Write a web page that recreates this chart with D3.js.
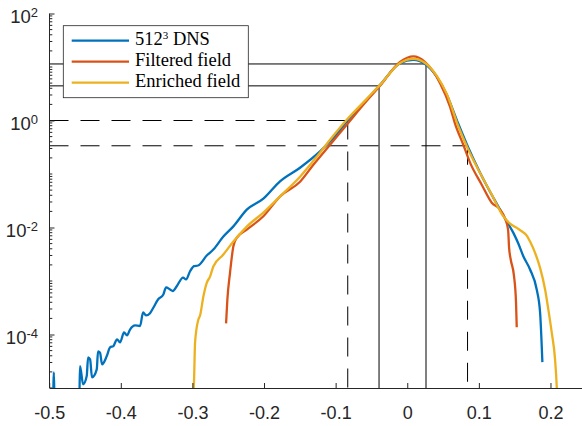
<!DOCTYPE html>
<html>
<head>
<meta charset="utf-8">
<script src="https://cdn.jsdelivr.net/npm/d3@7/dist/d3.min.js"></script>
<style>
body { margin: 0; background: #fff; }
</style>
</head>
<body>
<div id="app"></div>
<script>
// PDF curves (x value, pdf value)
const dnsX = [-0.4945, -0.4935, -0.4925, -0.4579, -0.4569, -0.4527, -0.4476, -0.4457, -0.4429, -0.4402, -0.4336, -0.4318, -0.4290, -0.4262, -0.4196, -0.4150, -0.4104, -0.4052, -0.4011, -0.3955, -0.3913, -0.3871, -0.3801, -0.3731, -0.3689, -0.3648, -0.3592, -0.3546, -0.3480, -0.3406, -0.3368, -0.3312, -0.3274, -0.3219, -0.3131, -0.3089, -0.3033, -0.2977, -0.2921, -0.2800, -0.2708, -0.2568, -0.2428, -0.2241, -0.2009, -0.1777, -0.1497, -0.1218, -0.1032, -0.0845, -0.0566, -0.0380, -0.0101, 0.0085, 0.0249, 0.0412, 0.0552, 0.0691, 0.0853, 0.1017, 0.1202, 0.1366, 0.1482, 0.1551, 0.1621, 0.1715, 0.1808, 0.1855, 0.1887];
const dnsY = [5e-6, 1.96e-5, 5e-6, 7.6e-6, 2.57e-5, 1.17e-5, 1.67e-5, 3.74e-5, 3.43e-5, 1.58e-5, 2.23e-5, 4.84e-5, 4.57e-5, 2.77e-5, 3.95e-5, 5.74e-5, 6.08e-5, 8.11e-5, 7.13e-5, 1.09e-4, 9.6e-5, 1.24e-4, 1.48e-4, 1.44e-4, 2.6e-4, 2.27e-4, 2.5e-4, 3.16e-4, 4.52e-4, 5.60e-4, 7.6e-4, 6.93e-4, 6.5e-4, 8.00e-4, 1.16e-3, 1.07e-3, 1.52e-3, 1.9e-3, 1.95e-3, 2.99e-3, 3.87e-3, 6.76e-3, 1.05e-2, 2.16e-2, 3.46e-2, 7.28e-2, 0.131, 0.264, 0.470, 0.958, 2.43, 4.63, 11.7, 13.6, 11.4, 6.62, 3.02, 1.03, 0.310, 0.106, 0.0361, 0.0147, 7.93e-3, 5.01e-3, 2.90e-3, 1.64e-3, 6.93e-4, 2.58e-4, 3.05e-5];

const filteredX = [-0.2530, -0.2512, -0.2475, -0.2428, -0.2381, -0.2241, -0.2009, -0.1776, -0.1497, -0.1311, -0.1078, -0.0845, -0.0566, -0.0380, -0.0101, 0.0085, 0.0249, 0.0458, 0.0598, 0.0668, 0.0783, 0.0877, 0.1040, 0.1180, 0.1296, 0.1366, 0.1408, 0.1422, 0.1445, 0.1491, 0.1519, 0.1529];
const filteredY = [1.61e-4, 4.52e-4, 1.42e-3, 4.46e-3, 6.40e-3, 9.14e-3, 1.62e-2, 3.82e-2, 7.18e-2, 0.149, 0.352, 0.832, 2.33, 4.44, 12.4, 15.8, 12.4, 4.99, 1.80, 0.868, 0.352, 0.163, 0.0631, 0.0291, 0.0216, 0.0147, 9.14e-3, 4.22e-3, 2.52e-3, 1.23e-3, 3.97e-4, 1.37e-4];

const enrichedX = [-0.2987, -0.2977, -0.2963, -0.2917, -0.2893, -0.2847, -0.2800, -0.2754, -0.2708, -0.2568, -0.2428, -0.2241, -0.2009, -0.1776, -0.1497, -0.1264, -0.1078, -0.0845, -0.0566, -0.0380, -0.0101, 0.0085, 0.0249, 0.0412, 0.0552, 0.0714, 0.0853, 0.1017, 0.1180, 0.1342, 0.1436, 0.1529, 0.1599, 0.1669, 0.1715, 0.1785, 0.1855, 0.1925, 0.1970, 0.2018, 0.2064, 0.2088, 0.2092];
const enrichedY = [7.6e-6, 1.45e-5, 7.13e-5, 1.91e-4, 2.27e-4, 5.14e-4, 9.25e-4, 1.21e-3, 1.87e-3, 3.12e-3, 5.46e-3, 1.04e-2, 1.90e-2, 3.82e-2, 8.91e-2, 0.210, 0.436, 1.03, 2.54, 4.63, 11.9, 14.2, 11.9, 6.82, 3.15, 0.773, 0.284, 0.104, 0.0411, 0.0162, 0.0118, 9.83e-3, 8.50e-3, 7.06e-3, 5.46e-3, 3.36e-3, 1.76e-3, 6.93e-4, 2.94e-4, 1.08e-4, 3.43e-5, 1.03e-5, 7.6e-6];

const seriesNames = ['512', 'Filtered field', 'Enriched field'];
const seriesColors = ['#0072BD', '#D95319', '#EDB120'];

// guide lines: solid at peak levels, dashed at lower levels
const solidLevels = [11.4, 4.44];
const solidX = [0.0262, -0.0394];
const dashedLevels = [1.0, 0.337];
const dashedX = [-0.0831, 0.0842];

const xTicks = [-0.5, -0.4, -0.3, -0.2, -0.1, 0, 0.1, 0.2];
const xTickLabels = ['-0.5', '-0.4', '-0.3', '-0.2', '-0.1', '0', '0.1', '0.2'];
const yLabelExps = [2, 0, -2, -4];

const width = 582;
const height = 426;
const plotLeft = 49.5, plotTop = 13.5, plotBottom = 388;

const x = d3.scaleLinear().domain([-0.5, 0.25]).range([49.2, 49.2 + 0.75 * 716.1]);
const y = d3.scaleLog().domain([1e-5, 1e2]).range([plotBottom, plotTop]);

const svg = d3.select('#app').append('svg')
	.attr('width', width)
	.attr('height', height)
	.style('font-family', '"Liberation Sans", Arial, sans-serif');

svg.append('defs').append('clipPath').attr('id', 'plot')
	.append('rect')
	.attr('x', plotLeft).attr('y', plotTop)
	.attr('width', width - plotLeft).attr('height', plotBottom - plotTop);

// guide lines
const guides = svg.append('g').attr('fill', 'none').attr('stroke', '#000').attr('stroke-width', 1);
solidLevels.forEach((v, i) => {
	guides.append('path')
		.attr('d', `M${plotLeft},${y(v)}H${x(solidX[i])}V${plotBottom}`);
});
dashedLevels.forEach((v, i) => {
	guides.append('path')
		.attr('stroke-dasharray', '19,12')
		.attr('d', `M${plotLeft},${y(v)}H${x(dashedX[i])}`);
	guides.append('path')
		.attr('stroke-dasharray', '19,12')
		.attr('d', `M${x(dashedX[i])},${y(v)}V${plotBottom}`);
});

// curves
const line = d3.line()
	.x((d) => x(d[0]))
	.y((d) => y(d[1]))
	.curve(d3.curveMonotoneX);

const curves = [
	d3.zip(dnsX, dnsY),
	d3.zip(filteredX, filteredY),
	d3.zip(enrichedX, enrichedY),
];

svg.append('g').attr('clip-path', 'url(#plot)')
	.selectAll('path')
	.data(curves)
	.join('path')
	.attr('fill', 'none')
	.attr('stroke', (d, i) => seriesColors[i])
	.attr('stroke-width', 2.3)
	.attr('stroke-linejoin', 'round')
	.attr('d', line);

// x axis
const xAxis = svg.append('g')
	.attr('transform', `translate(0,${plotBottom})`)
	.call(d3.axisBottom(x)
		.tickValues(xTicks)
		.tickSize(-5)
		.tickSizeOuter(0)
		.tickPadding(18)
		.tickFormat((d, i) => xTickLabels[i]));
xAxis.select('.domain').attr('stroke', '#262626');
xAxis.selectAll('.tick line').attr('stroke', '#262626');
xAxis.selectAll('.tick text')
	.attr('fill', '#262626')
	.attr('font-size', 18)
	.attr('font-family', '"Liberation Sans", Arial, sans-serif');

// y axis
const minorTicks = [];
for (let k = -5; k <= 1; k++) {
	for (let m = 2; m <= 9; m++) minorTicks.push(m * Math.pow(10, k));
	if (!yLabelExps.includes(k)) minorTicks.push(Math.pow(10, k));
}
const yAxis = svg.append('g')
	.attr('transform', `translate(${plotLeft},0)`)
	.call(d3.axisLeft(y)
		.tickValues(yLabelExps.map((k) => Math.pow(10, k)))
		.tickSize(-5)
		.tickSizeOuter(0)
		.tickFormat(''));
yAxis.select('.domain').attr('stroke', '#262626').attr('d', `M0,${plotTop}V${plotBottom}`);
yAxis.selectAll('.tick line').attr('stroke', '#262626');

yAxis.selectAll('.minor')
	.data(minorTicks)
	.join('line')
	.attr('class', 'minor')
	.attr('x1', 0).attr('x2', 2.8)
	.attr('y1', (d) => y(d)).attr('y2', (d) => y(d))
	.attr('stroke', '#262626');

const yLabels = svg.append('g').attr('fill', '#262626');
yLabelExps.forEach((k) => {
	const t = yLabels.append('text')
		.attr('x', 38)
		.attr('y', y(Math.pow(10, k)) + 9.3)
		.attr('text-anchor', 'end')
		.attr('font-size', 18.5);
	t.append('tspan').text('10');
	t.append('tspan')
		.attr('dy', -6)
		.attr('font-size', 13)
		.text(String(k));
});

// legend
const legend = svg.append('g');
legend.append('rect')
	.attr('x', 63.3).attr('y', 25.7)
	.attr('width', 185).attr('height', 72)
	.attr('fill', '#fff')
	.attr('stroke', '#262626')
	.attr('stroke-width', 0.8);
seriesNames.forEach((name, i) => {
	const ry = 40.7 + i * 21;
	legend.append('line')
		.attr('x1', 71.7).attr('x2', 129)
		.attr('y1', ry).attr('y2', ry)
		.attr('stroke', seriesColors[i])
		.attr('stroke-width', 2.3);
	const t = legend.append('text')
		.attr('x', 135)
		.attr('y', ry + 4.5)
		.attr('font-family', '"Liberation Serif", "Times New Roman", serif')
		.attr('font-size', 18.5)
		.attr('fill', '#000');
	t.append('tspan').text(name);
	if (i === 0) {
		t.append('tspan').attr('dy', -6).attr('font-size', 11).text('3');
		t.append('tspan').attr('dy', 6).text(' DNS');
	}
});
</script>
</body>
</html>
